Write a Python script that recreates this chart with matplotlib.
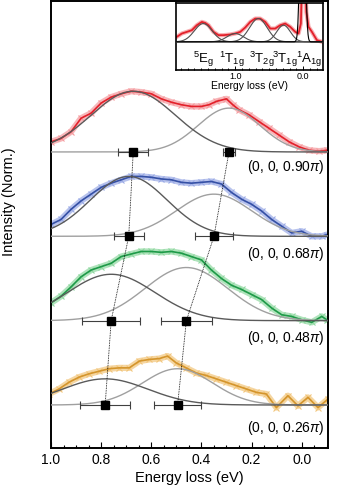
import numpy as np
import matplotlib
matplotlib.use('Agg')
import matplotlib.pyplot as plt
from matplotlib.ticker import MultipleLocator, FormatStrFormatter

plt.rcParams['font.family'] = ['Liberation Sans', 'DejaVu Sans']
plt.rcParams['mathtext.fontset'] = 'custom'
plt.rcParams['mathtext.rm'] = 'Liberation Sans'
plt.rcParams['mathtext.it'] = 'Liberation Sans:italic'

# ---- spectra (energy loss in eV, normalised intensity) ----
e_red = [1.00, 0.96, 0.92, 0.88, 0.84, 0.80, 0.76, 0.72, 0.68, 0.64, 0.60, 0.56, 0.52, 0.48, 0.44,
         0.40, 0.37, 0.34, 0.30, 0.275, 0.25, 0.21, 0.17, 0.13, 0.09, 0.05, 0.01, -0.03, -0.07, -0.10]
i_red = [0.12, 0.16, 0.24, 0.40, 0.46, 0.58, 0.65, 0.69, 0.72, 0.71, 0.69, 0.63, 0.59, 0.56, 0.54,
         0.54, 0.56, 0.60, 0.63, 0.56, 0.50, 0.44, 0.36, 0.28, 0.20, 0.12, 0.06, 0.02, 0.01, 0.02]

e_grid = [1.00, 0.96, 0.92, 0.88, 0.84, 0.80, 0.76, 0.72, 0.68, 0.64, 0.60, 0.56, 0.52, 0.48, 0.44,
          0.40, 0.36, 0.32, 0.28, 0.24, 0.20, 0.16, 0.12, 0.08, 0.04, 0.00, -0.04, -0.08, -0.10]
i_blue = [0.14, 0.20, 0.32, 0.42, 0.50, 0.58, 0.63, 0.67, 0.71, 0.71, 0.70, 0.68, 0.67, 0.64, 0.63,
          0.64, 0.65, 0.62, 0.52, 0.44, 0.38, 0.30, 0.20, 0.12, 0.04, 0.06, 0.00, 0.00, 0.02]
i_green = [0.21, 0.29, 0.40, 0.52, 0.60, 0.64, 0.68, 0.76, 0.79, 0.82, 0.82, 0.81, 0.82, 0.80, 0.76,
           0.72, 0.60, 0.50, 0.42, 0.37, 0.31, 0.25, 0.15, 0.07, 0.05, 0.01, -0.02, 0.05, 0.01]

e_orange = [1.008, 0.968, 0.928, 0.888, 0.848, 0.808, 0.768, 0.728, 0.688, 0.648, 0.608, 0.568, 0.535,
            0.501, 0.461, 0.421, 0.381, 0.341, 0.301, 0.261, 0.221, 0.181, 0.141, 0.101, 0.055, 0.015,
            -0.025, -0.065, -0.105]
i_orange = [0.13, 0.19, 0.27, 0.33, 0.37, 0.40, 0.43, 0.44, 0.44, 0.52, 0.54, 0.55, 0.58,
            0.50, 0.44, 0.38, 0.35, 0.31, 0.27, 0.23, 0.19, 0.15, 0.13, -0.03, 0.11, -0.01,
            0.09, -0.03, 0.07]

labels = ['(0, 0, 0.90$\\pi$)', '(0, 0, 0.68$\\pi$)', '(0, 0, 0.48$\\pi$)', '(0, 0, 0.26$\\pi$)']
offsets = [3, 2, 1, 0]
label_y = [-0.18, -0.21, -0.21, -0.27]

# fitted gaussians: (centre, amplitude, sigma)
fit_hi = [(0.672, 0.72, 0.168), (0.69, 0.71, 0.153), (0.76, 0.55, 0.175), (0.784, 0.31, 0.17)]
fit_lo = [(0.29, 0.52, 0.123), (0.35, 0.50, 0.15), (0.46, 0.63, 0.165), (0.495, 0.43, 0.14)]
err_hi = [0.06, 0.06, 0.115, 0.10]
err_lo = [0.022, 0.077, 0.103, 0.094]

line_cols = ['#e3202a', '#3550a5', '#1e9a48', '#d4952c']
halo_cols = ['#f59a9e', '#9aaae6', '#8fd8a0', '#f2c57a']

# ---- inset: wide-range spectrum ----
e_ins = [1.858, 1.784, 1.71, 1.637, 1.564, 1.49, 1.441, 1.392, 1.319, 1.245, 1.172, 1.074, 1.0,
         0.926, 0.853, 0.779, 0.706, 0.632, 0.559, 0.485, 0.412, 0.338, 0.265, 0.191, 0.118,
         0.069, 0.035, 0.01, -0.02, -0.045, -0.078, -0.127, -0.2, -0.275]
i_ins = [15, 25, 30, 35, 50, 60, 57, 50, 30, 20, 20, 22, 25,
         30, 43, 60, 70, 70, 60, 40, 40, 50, 55, 45, 30,
         25, 55, 250, 250, 90, 45, 30, 5, 0]
ins_fits = [(1.47, 55, 0.13), (1.0, 25, 0.12), (0.66, 70, 0.13), (0.29, 50, 0.10)]
elastic = (0.01, 800, 0.03)
ins_labels = ['$^5\\mathrm{E}_\\mathrm{g}$', '$^1\\mathrm{T}_\\mathrm{1g}$', '$^3\\mathrm{T}_\\mathrm{2g}$',
              '$^3\\mathrm{T}_\\mathrm{1g}$', '$^1\\mathrm{A}_\\mathrm{1g}$']
ins_label_e = [1.466, 1.05, 0.61, 0.265, -0.08]


def gauss(x, c, a, s):
    return a * np.exp(-(x - c) ** 2 / (2 * s ** 2))


fig = plt.figure(figsize=(3.53, 5.0), dpi=100)
ax = fig.add_axes([0.1445, 0.104, 0.7847, 0.894])

x = np.linspace(1.05, -0.12, 400)
spectra = [(e_red, i_red), (e_grid, i_blue), (e_grid, i_green), (e_orange, i_orange)]
for k, (ee, ii) in enumerate(spectra):
    off = offsets[k]
    yy = np.array(ii) + off
    ax.plot(ee, yy, color=halo_cols[k], lw=4.5, alpha=0.7, zorder=1, solid_capstyle='round')
    ax.plot(ee, yy, 'x', color=halo_cols[k], ms=4, mew=0.8, zorder=1)
    ax.plot(ee, yy, color=line_cols[k], lw=1.2, zorder=2)
    ax.plot(x, gauss(x, *fit_lo[k]) + off, color='#a0a0a0', lw=1.0, zorder=3)
    ax.plot(x, gauss(x, *fit_hi[k]) + off, color='#5a5a5a', lw=1.0, zorder=3)
    ax.errorbar([fit_hi[k][0], fit_lo[k][0]], [off, off], xerr=[err_hi[k], err_lo[k]],
                fmt='s', color='k', ms=6, ecolor='#404040', elinewidth=0.8, capsize=3,
                capthick=0.8, zorder=5)
    ax.text(-0.092, off + label_y[k], labels[k], ha='right', va='center', fontsize=10)

ax.plot([f[0] for f in fit_hi], offsets, ls=(0, (1, 1)), color='k', lw=0.6, zorder=4)
ax.plot([f[0] for f in fit_lo], offsets, ls=(0, (1, 1)), color='k', lw=0.6, zorder=4)

ax.set_xlim(1.0, -0.105)
ax.set_ylim(-0.51, 4.79)
ax.set_yticks([])
ax.xaxis.set_major_locator(MultipleLocator(0.2))
ax.xaxis.set_minor_locator(MultipleLocator(0.05))
ax.tick_params(axis='x', which='both', direction='in', labelsize=10)
ax.tick_params(axis='x', which='major', length=4, width=0.8)
ax.tick_params(axis='x', which='minor', length=2.5, width=0.8)
ax.set_xlabel('Energy loss (eV)', fontsize=10.5, labelpad=3)
ax.set_ylabel('Intensity (Norm.)', fontsize=10.5)
ax.yaxis.set_label_coords(-0.125, 0.55)
for sp in ax.spines.values():
    sp.set_linewidth(1.4)

# inset
axi = fig.add_axes([0.4986, 0.86, 0.4164, 0.134])
xi = np.linspace(1.9, -0.3, 500)
axi.plot(e_ins, i_ins, color='#f59a9e', lw=3, alpha=0.8, zorder=1)
axi.plot(e_ins, i_ins, color='#e3202a', lw=1.3, zorder=2)
for f in ins_fits:
    axi.plot(xi, gauss(xi, *f), color='#505050', lw=0.8, zorder=3)
axi.plot(xi, gauss(xi, *elastic), color='k', lw=0.8, zorder=3)
for lab, ex in zip(ins_labels, ins_label_e):
    axi.text(ex, -52, lab, ha='center', va='center', fontsize=9.5)
axi.set_xlim(1.87, -0.29)
axi.set_ylim(-85, 117)
axi.set_yticks([])
axi.xaxis.set_major_locator(MultipleLocator(1.0))
axi.xaxis.set_minor_locator(MultipleLocator(0.1))
axi.xaxis.set_major_formatter(FormatStrFormatter('%.1f'))
axi.tick_params(axis='x', which='both', direction='in', labelsize=6.5, pad=1.5)
axi.tick_params(axis='x', which='major', length=3, width=0.7)
axi.tick_params(axis='x', which='minor', length=1.8, width=0.7)
axi.set_xlabel('Energy loss (eV)', fontsize=7.5, labelpad=0)
for sp in axi.spines.values():
    sp.set_linewidth(1.2)

fig.savefig('out.png', dpi=100)
